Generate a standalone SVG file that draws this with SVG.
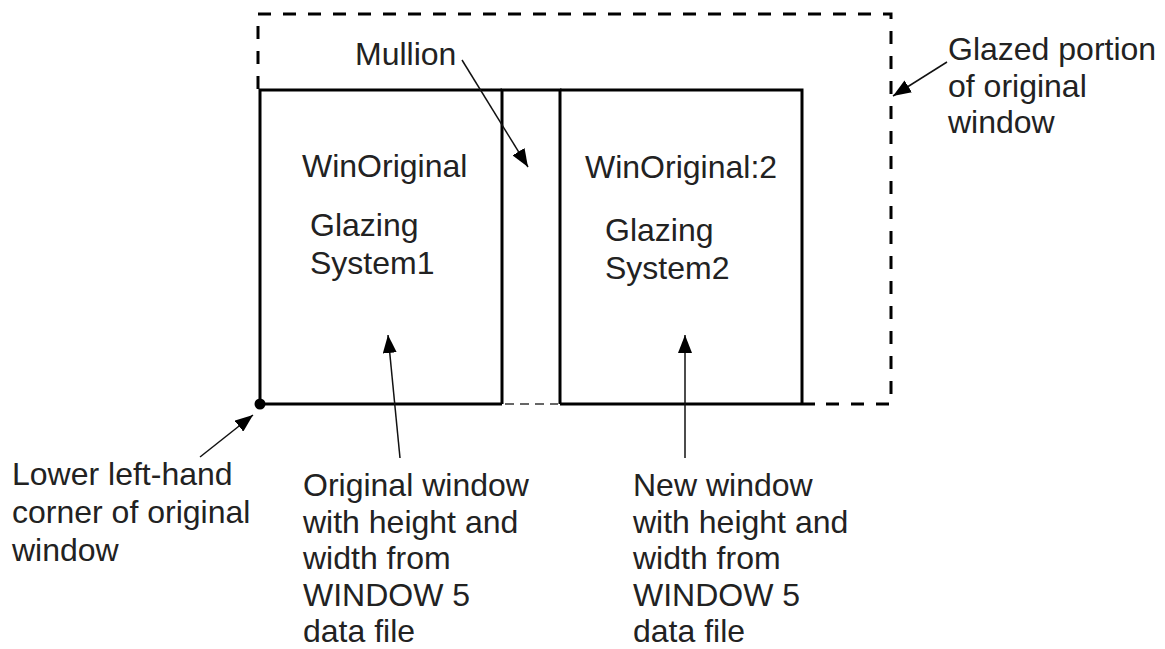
<svg xmlns="http://www.w3.org/2000/svg" width="1165" height="649" viewBox="0 0 1165 649">
  <style>
    .t { font-family: "Liberation Sans", Arial, sans-serif; font-size: 32px; fill: #222; }
    .solid { stroke: #000; stroke-width: 3; fill: none; }
    .dash { stroke: #000; stroke-width: 3; fill: none; stroke-dasharray: 13 12; }
    .mdash { stroke: #666; stroke-width: 2; fill: none; stroke-dasharray: 9 6; }
    .conn { stroke: #111; stroke-width: 1.5; fill: none; marker-end: url(#ah); }
  </style>
  <defs>
    <marker id="ah" viewBox="0 0 18 14" refX="18" refY="7" markerWidth="18" markerHeight="14" orient="auto" markerUnits="userSpaceOnUse">
      <path d="M0,0 L18,7 L0,14 z" fill="#000"/>
    </marker>
  </defs>
  <rect width="1165" height="649" fill="#fff"/>

  <g id="glazed-portion">
    <path class="dash" d="M258,89 L258,14 L891,14 L891,404 L815,404"/>
  </g>

  <g id="window1">
    <path class="solid" d="M502,90 L260,90 L260,404 L502,404"/>
    <text class="t" x="302" y="177">WinOriginal</text>
    <text class="t" x="310" y="236">Glazing</text>
    <text class="t" x="310" y="274">System1</text>
  </g>

  <g id="mullion">
    <path class="solid" d="M502,404 L502,90 L560,90 L560,404"/>
    <path class="mdash" d="M505,404 L558,404"/>
  </g>

  <g id="window2">
    <path class="solid" d="M560,90 L802,90 L802,404 M560,404 L815,404"/>
    <text class="t" x="585" y="178">WinOriginal:2</text>
    <text class="t" x="605" y="241">Glazing</text>
    <text class="t" x="605" y="279">System2</text>
  </g>

  <g id="corner">
    <circle cx="260" cy="404" r="5.5" fill="#000"/>
  </g>

  <g id="labels">
    <text class="t" x="355" y="65">Mullion</text>
    <text class="t" x="948" y="60">Glazed portion</text>
    <text class="t" x="948" y="97">of original</text>
    <text class="t" x="948" y="133">window</text>
    <text class="t" x="12" y="485">Lower left-hand</text>
    <text class="t" x="12" y="523">corner of original</text>
    <text class="t" x="12" y="561">window</text>
    <text class="t" x="303" y="496">Original window</text>
    <text class="t" x="303" y="532.5">with height and</text>
    <text class="t" x="303" y="569">width from</text>
    <text class="t" x="303" y="605.5">WINDOW 5</text>
    <text class="t" x="303" y="642">data file</text>
    <text class="t" x="633" y="496">New window</text>
    <text class="t" x="633" y="532.5">with height and</text>
    <text class="t" x="633" y="569">width from</text>
    <text class="t" x="633" y="605.5">WINDOW 5</text>
    <text class="t" x="633" y="642">data file</text>
  </g>

  <g id="connectors">
    <path class="conn" d="M462,60 L528,167"/>
    <path class="conn" d="M947,62 L893,96"/>
    <path class="conn" d="M200,457 L253,415"/>
    <path class="conn" d="M400,458 L388,335"/>
    <path class="conn" d="M685,458 L685,335"/>
  </g>
</svg>
